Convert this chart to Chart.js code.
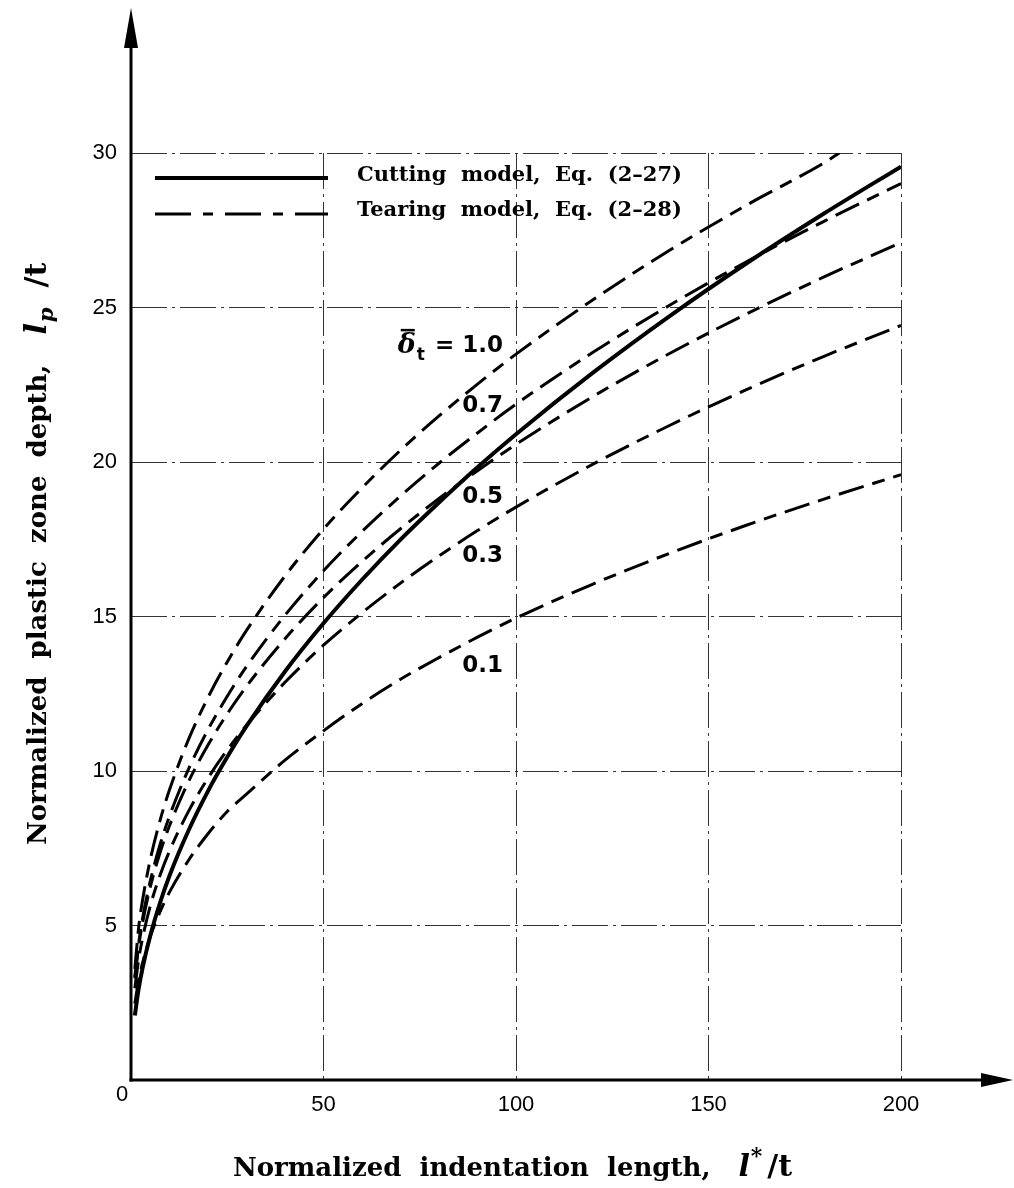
<!DOCTYPE html>
<html>
<head>
<meta charset="utf-8">
<script src="https://cdn.jsdelivr.net/npm/chart.js@4.4.0/dist/chart.umd.min.js"></script>
<style>
  html, body { margin: 0; padding: 0; background: #fff; }
  #plot { display: block; }
</style>
</head>
<body>
<canvas id="plot" width="1014" height="1188"></canvas>
<script>
// Normalized indentation length l*/t at which each curve is sampled
const indentation = [1, 2, 3, 5, 7.5, 10, 15, 20, 25, 30, 40, 50, 60, 70, 80, 90, 100, 120, 140, 160, 180, 200];
// the delta = 1.0 curve leaves the plotted range at l_p/t = 30
const indentationTop = [1, 2, 3, 5, 7.5, 10, 15, 20, 25, 30, 40, 50, 60, 70, 80, 90, 100, 120, 140, 160, 180, 184];

// Plastic zone depth l_p/t, cutting model
const cuttingDepth = [2.09, 2.96, 3.62, 4.67, 5.72, 6.61, 8.09, 9.35, 10.45, 11.45, 13.22, 14.78, 16.19, 17.49, 18.69, 19.83, 20.90, 22.89, 24.73, 26.44, 28.04, 29.56];

// Plastic zone depth l_p/t, tearing model, one list per crack opening delta_t
const tearingDepth10 = [3.60, 4.95, 5.82, 7.13, 8.38, 9.39, 11.04, 12.38, 13.53, 14.55, 16.31, 17.83, 19.16, 20.38, 21.49, 22.52, 23.49, 25.25, 26.86, 28.32, 29.68, 30.00];
const tearingDepth07 = [3.34, 4.43, 5.23, 6.44, 7.60, 8.54, 10.08, 11.34, 12.42, 13.38, 15.04, 16.48, 17.75, 18.90, 19.96, 20.94, 21.87, 23.55, 25.08, 26.49, 27.79, 29.01];
const tearingDepth05 = [3.29, 4.34, 5.09, 6.24, 7.34, 8.23, 9.67, 10.84, 11.85, 12.74, 14.28, 15.61, 16.78, 17.84, 18.82, 19.72, 20.57, 22.12, 23.52, 24.80, 25.99, 27.10];
const tearingDepth03 = [2.97, 3.91, 4.59, 5.63, 6.61, 7.41, 8.71, 9.77, 10.68, 11.48, 12.87, 14.07, 15.12, 16.08, 16.96, 17.78, 18.54, 19.93, 21.19, 22.35, 23.42, 24.42];
const tearingDepth01 = [2.47, 3.24, 3.79, 4.64, 5.43, 6.08, 7.12, 7.97, 8.69, 9.25, 10.35, 11.30, 12.18, 12.97, 13.67, 14.33, 14.95, 16.05, 17.05, 17.96, 18.80, 19.59];

const deltaValues = ['1.0', '0.7', '0.5', '0.3', '0.1'];
const legendLabels = ['Cutting  model,  Eq.  (2\u201327)', 'Tearing  model,  Eq.  (2\u201328)'];
const xTicks = [50, 100, 150, 200];
const yTicks = [5, 10, 15, 20, 25, 30];

const pts = (xs, ys) => xs.map((v, i) => ({ x: v, y: ys[i] }));

const SERIF_B = 'bold 26px "DejaVu Serif"';
const tearDash = [26, 9, 13, 9];

function curve(label, xs, ys, dashed) {
  return {
    label,
    data: pts(xs, ys),
    borderColor: '#000',
    borderWidth: dashed ? 3 : 4,
    borderDash: dashed ? tearDash : [],
    borderCapStyle: 'butt',
    pointRadius: 0,
    fill: false,
    cubicInterpolationMode: 'monotone'
  };
}

// draws a run of differently styled text pieces one after another
function drawRuns(ctx, runs, x, y) {
  let cx = x;
  for (const r of runs) {
    ctx.font = r.font;
    cx += (r.dx || 0);
    ctx.fillText(r.text, cx, y + (r.dy || 0));
    cx += ctx.measureText(r.text).width;
  }
  return cx;
}

// label placement for the delta_t curves: right edge and vertical centre, in data units
const curveLabelPlacement = [
  { x: 96.6, y: 23.75 },
  { x: 96.6, y: 21.81 },
  { x: 96.6, y: 18.87 },
  { x: 96.6, y: 16.96 },
  { x: 96.6, y: 13.40 }
];

const decorations = {
  id: 'decorations',
  afterDatasetsDraw(chart) {
    const { ctx, scales: { x, y } } = chart;
    const ox = x.getPixelForValue(0);
    const oy = y.getPixelForValue(0);
    ctx.save();
    ctx.fillStyle = '#000';
    ctx.strokeStyle = '#000';

    // axes with arrowheads
    ctx.lineWidth = 3;
    ctx.setLineDash([]);
    ctx.beginPath();
    ctx.moveTo(ox, oy + 1.5);
    ctx.lineTo(ox, 44);
    ctx.stroke();
    ctx.beginPath();
    ctx.moveTo(ox, 8);
    ctx.lineTo(ox - 7, 48);
    ctx.lineTo(ox + 7, 48);
    ctx.closePath();
    ctx.fill();
    ctx.beginPath();
    ctx.moveTo(ox - 1.5, oy);
    ctx.lineTo(985, oy);
    ctx.stroke();
    ctx.beginPath();
    ctx.moveTo(1013, oy);
    ctx.lineTo(981, oy - 7);
    ctx.lineTo(981, oy + 7);
    ctx.closePath();
    ctx.fill();

    // origin label
    ctx.font = '22px "Liberation Sans"';
    ctx.textAlign = 'center';
    ctx.textBaseline = 'middle';
    ctx.fillText('0', ox - 9, oy + 15);

    // legend
    const ds = chart.data.datasets;
    const rows = [
      { set: ds[0], ly: 178, ty: 176, dash: [] },
      { set: ds[1], ly: 214, ty: 211, dash: [36, 12, 10, 12] }
    ];
    rows.forEach((r, i) => {
      ctx.lineWidth = r.set.borderWidth;
      ctx.setLineDash(r.dash);
      ctx.beginPath();
      ctx.moveTo(155, r.ly);
      ctx.lineTo(328, r.ly);
      ctx.stroke();
      ctx.setLineDash([]);
      ctx.font = 'bold 21px "DejaVu Serif"';
      ctx.textAlign = 'left';
      ctx.textBaseline = 'middle';
      ctx.fillText(legendLabels[i], 357, r.ty);
    });

    // delta_t labels next to the tearing curves
    ctx.textBaseline = 'middle';
    const numFont = 'bold 23px "DejaVu Sans"';
    curveLabelPlacement.forEach((p, i) => {
      const px = x.getPixelForValue(p.x);
      const py = y.getPixelForValue(p.y);
      ctx.font = numFont;
      ctx.textAlign = 'right';
      const txt = i === 0 ? '= ' + deltaValues[i] : deltaValues[i];
      ctx.fillText(txt, px, py);
      if (i === 0) {
        const w = ctx.measureText(txt).width;
        const ex = px - w - 10;
        ctx.font = 'bold 17px "DejaVu Sans"';
        ctx.fillText('t', ex, py + 9);
        const tw = ctx.measureText('t').width;
        ctx.font = 'bold italic 27px "DejaVu Serif"';
        const dw = ctx.measureText('\u03b4').width;
        const dx = ex - tw - 1;
        ctx.fillText('\u03b4', dx, py);
        ctx.lineWidth = 2.5;
        ctx.beginPath();
        ctx.moveTo(dx - dw + 3, py - 16);
        ctx.lineTo(dx - 1, py - 16);
        ctx.stroke();
      }
    });

    // axis titles
    ctx.textAlign = 'left';
    ctx.textBaseline = 'alphabetic';
    drawRuns(ctx, [
      { text: 'Normalized  indentation  length,', font: SERIF_B },
      { text: 'l', font: 'bold italic 30px "DejaVu Serif"', dx: 28 },
      { text: '*', font: 'bold 22px "DejaVu Serif"', dy: -13, dx: 1 },
      { text: '/t', font: 'bold 30px "DejaVu Serif"', dx: 5 }
    ], 233, 1176);

    ctx.translate(46, 845);
    ctx.rotate(-Math.PI / 2);
    drawRuns(ctx, [
      { text: 'Normalized  plastic  zone  depth,', font: SERIF_B },
      { text: 'l', font: 'bold italic 30px "DejaVu Serif"', dx: 30 },
      { text: 'p', font: 'bold italic 21px "DejaVu Serif"', dy: 7, dx: 1 },
      { text: '/t', font: 'bold 30px "DejaVu Serif"', dx: 20 }
    ], 0, 0);
    ctx.restore();
  }
};

const gridDash = [36, 5, 3, 5];

new Chart(document.getElementById('plot'), {
  type: 'line',
  data: {
    datasets: [
      curve(legendLabels[0], indentation, cuttingDepth, false),
      curve('\u03b4t = ' + deltaValues[0], indentationTop, tearingDepth10, true),
      curve('\u03b4t = ' + deltaValues[1], indentation, tearingDepth07, true),
      curve('\u03b4t = ' + deltaValues[2], indentation, tearingDepth05, true),
      curve('\u03b4t = ' + deltaValues[3], indentation, tearingDepth03, true),
      curve('\u03b4t = ' + deltaValues[4], indentation, tearingDepth01, true)
    ]
  },
  options: {
    responsive: false,
    animation: false,
    events: [],
    layout: { padding: { left: 0, top: 153, right: 113, bottom: 0 } },
    plugins: { legend: { display: false }, tooltip: { enabled: false } },
    scales: {
      x: {
        type: 'linear',
        min: 0,
        max: 200,
        afterFit(s) { s.height = 108; },
        afterBuildTicks(s) { s.ticks = xTicks.map(v => ({ value: v })); },
        grid: { color: '#333', lineWidth: 1, drawTicks: false },
        border: { display: false, dash: gridDash },
        ticks: { padding: 12, color: '#000', font: { family: 'Liberation Sans', size: 22 }, maxRotation: 0, autoSkip: false }
      },
      y: {
        type: 'linear',
        min: 0,
        max: 30,
        afterFit(s) { s.width = 131; },
        afterBuildTicks(s) { s.ticks = yTicks.map(v => ({ value: v })); },
        grid: { color: '#333', lineWidth: 1, drawTicks: false },
        border: { display: false, dash: gridDash },
        ticks: { padding: 14, color: '#000', font: { family: 'Liberation Sans', size: 22 }, autoSkip: false }
      }
    }
  },
  plugins: [decorations]
});
</script>
</body>
</html>
